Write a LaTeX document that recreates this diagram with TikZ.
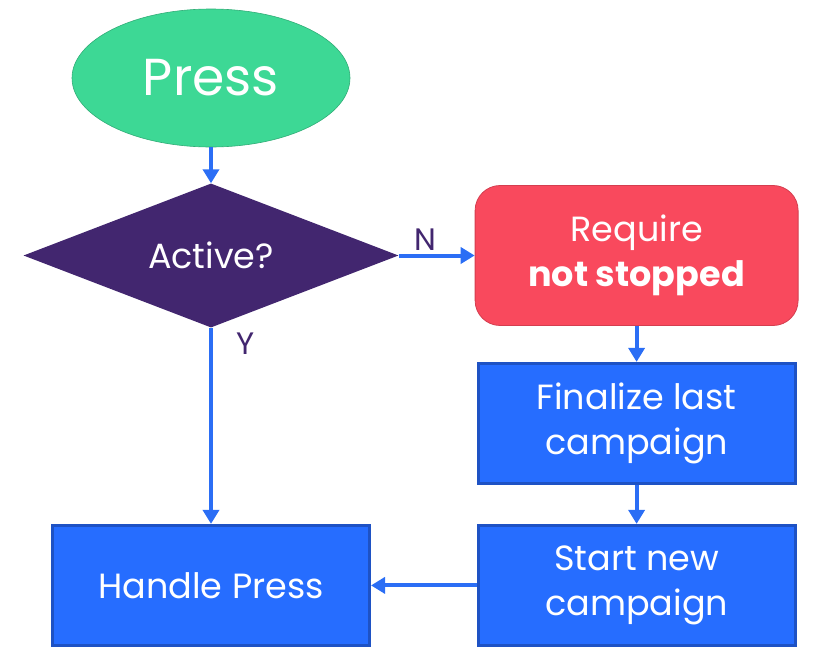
\documentclass[tikz,border=0pt]{standalone}
\usepackage{fontspec}
\setmainfont{Poppins}
\usetikzlibrary{shapes.geometric,positioning,arrows.meta}
\definecolor{pressgreen}{HTML}{3DD895}
\definecolor{activepurple}{HTML}{42266F}
\definecolor{requirered}{HTML}{F9495D}
\definecolor{stepblue}{HTML}{266DFF}
\definecolor{stepedge}{HTML}{1E52C4}
\definecolor{flowblue}{HTML}{2B6EF5}
\tikzset{
  startnode/.style={ellipse, fill=pressgreen, draw=pressgreen!80!black, line width=0.6pt,
    minimum width=278pt, minimum height=138pt, text=white, font=\fontsize{52}{60}\selectfont},
  decision/.style={diamond, fill=activepurple, aspect=2.6, inner sep=0pt,
    minimum width=375pt, minimum height=144pt, text=white, font=\fontsize{35}{40}\selectfont},
  checkbox/.style={rectangle, rounded corners=25pt, fill=requirered, draw=requirered!85!black,
    line width=0.8pt, minimum width=323pt, minimum height=140pt, text=white, align=center,
    font=\fontsize{35}{45}\selectfont},
  stepbox/.style={rectangle, fill=stepblue, draw=stepedge, line width=3pt,
    minimum width=317pt, minimum height=120pt, text=white, align=center,
    font=\fontsize{35}{45}\selectfont},
  flow/.style={-{Triangle[width=16pt,length=14pt]}, line width=4pt, draw=flowblue},
  answer/.style={text=activepurple, font=\fontsize{31}{36}\selectfont}
}
\begin{document}
\begin{tikzpicture}
  \useasboundingbox (0,0) rectangle (831pt,-654pt);
  % nodes
  \node[startnode] (press) at (211pt,-78pt) {Press};
  \node[decision, below=36pt of press] (active) {Active?};
  \node[checkbox, right=76pt of active] (require) {Require\\\textbf{not stopped}};
  \node[stepbox, below=36pt of require] (finalize) {Finalize last\\campaign};
  \node[stepbox, below=39pt of finalize] (start) {Start new\\campaign};
  \node[stepbox] (handle) at (active |- start) {Handle Press};
  % connectors
  \draw[flow] (press) -- (active);
  \draw[flow] (active.east) -- node[answer, above, pos=0.35] {N} (active.east -| require.west);
  \draw[flow] (active) -- node[answer, right=20pt, pos=0.08] {Y} (handle);
  \draw[flow] (require) -- (finalize);
  \draw[flow] (finalize) -- (start);
  \draw[flow] (start) -- (handle);
\end{tikzpicture}
\end{document}
